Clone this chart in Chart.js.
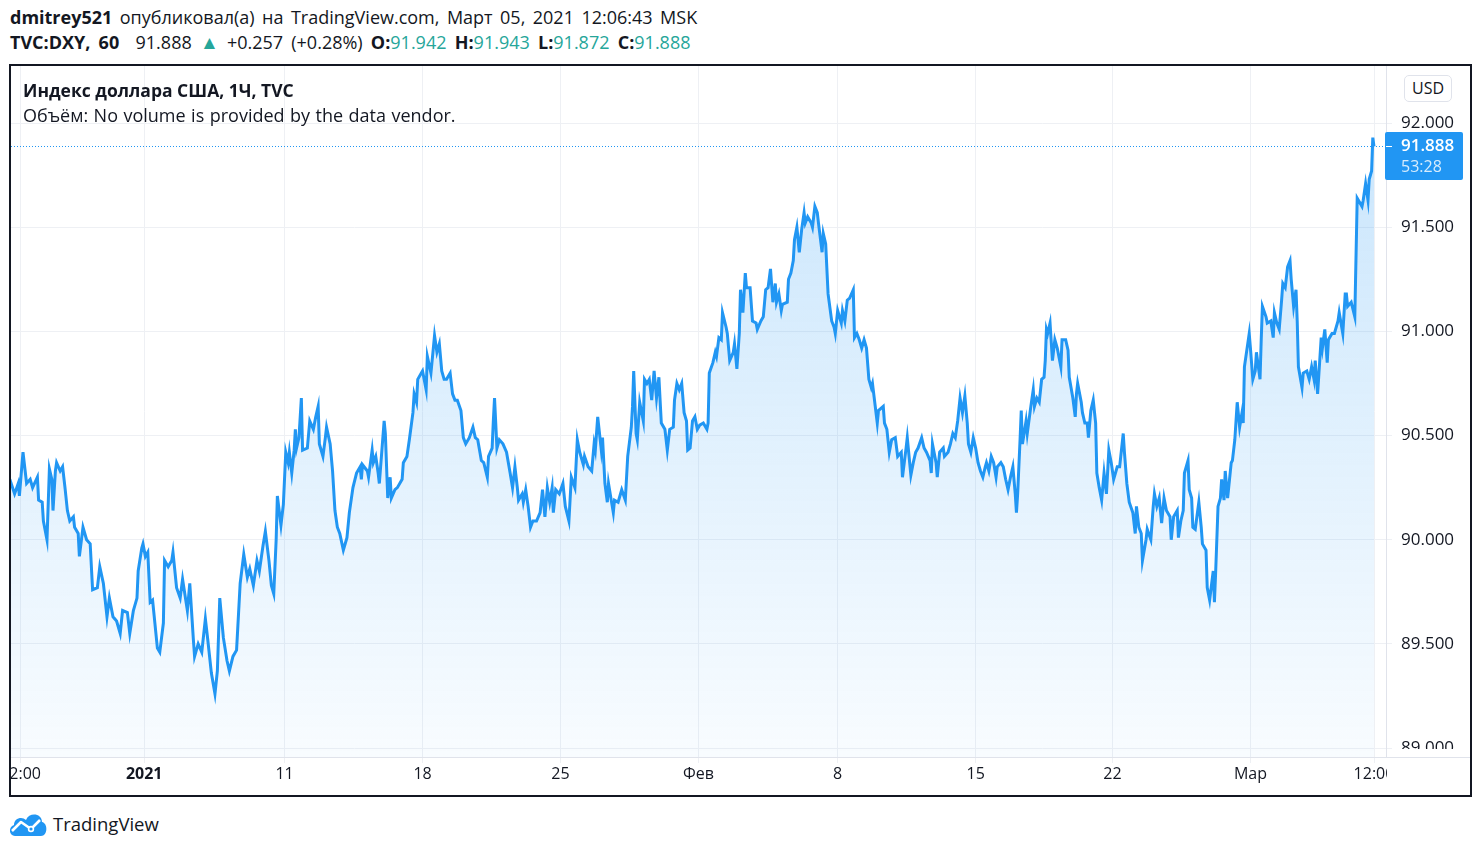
<!DOCTYPE html>
<html>
<head>
<meta charset="utf-8">
<title>DXY 1H</title>
<script src="https://cdn.jsdelivr.net/npm/chart.js@4.4.1/dist/chart.umd.min.js"></script>
<style>
  body { margin: 0; background: #fff; color: #131722; font-family: "Open Sans", "Noto Sans", sans-serif; }
  #hdr { position: absolute; left: 10px; top: 5px; font-size: 18px; line-height: 25px; white-space: nowrap; }
  #hdr .l1 { word-spacing: 2.8px; }
  #hdr .l2 { word-spacing: 3.5px; }
  #hdr b { font-weight: 700; }
  .up { color: #26a69a; }
  .tri { font-size: 19px; }
  #box { position: absolute; left: 9px; top: 64px; width: 1459px; height: 729px; border: 2px solid #131722; overflow: hidden; }
  #box canvas { position: absolute; left: 0; top: 0; }
  #legend { position: absolute; left: 12px; top: 12px; font-size: 18px; line-height: 25px; white-space: nowrap; }
  #legend b { font-weight: 700; font-size: 17.5px; }
  #legend .vol { word-spacing: 0.8px; }
  #usd { position: absolute; left: 1393px; top: 9px; width: 46px; height: 25px; border: 1px solid #e0e3eb; border-radius: 5px;
         font-size: 16px; line-height: 25px; text-align: center; background: #fff; }
  #foot { position: absolute; left: 8px; top: 808px; height: 30px; display: flex; align-items: center; font-size: 18.5px; }
  #foot svg { margin-right: 5px; }
</style>
</head>
<body>
<div id="hdr">
  <div class="l1"><b>dmitrey521</b> опубликовал(а) на TradingView.com, Март 05, 2021 12:06:43 MSK</div>
  <div class="l2"><b>TVC:DXY, 60</b>&nbsp; 91.888 <span class="up tri">▲</span> +0.257 (+0.28%) <b>O:</b><span class="up">91.942</span> <b>H:</b><span class="up">91.943</span> <b>L:</b><span class="up">91.872</span> <b>C:</b><span class="up">91.888</span></div>
</div>

<div id="box">
  <canvas id="dxy" width="1459" height="729"></canvas>
  <div id="legend">
    <div><b>Индекс доллара США, 1Ч, TVC</b></div>
    <div class="vol">Объём: No volume is provided by the data vendor.</div>
  </div>
  <div id="usd">USD</div>
</div>

<div id="foot">
  <svg width="40" height="26" viewBox="0 0 40 26">
    <path d="M7 26 C1 26 0 17 6 15 C6 8 14 6 18 10 C21 2 34 3 34 12 C40 13 40 26 33 26 Z" fill="#2196f3"/>
    <polyline points="4,21 13,12 23,19 32,10" fill="none" stroke="#fff" stroke-width="2.6" stroke-linejoin="round"/>
    <circle cx="23" cy="19" r="2.4" fill="#2196f3" stroke="#fff" stroke-width="1.6"/>
  </svg>
  <span>TradingView</span>
</div>

<script>
// hourly bars counted from the first bar on screen, and the close of each
const hours = [
  0, 4, 7, 8, 11, 14, 17, 19, 23, 24, 27, 28, 31, 33, 35, 36, 38, 39, 42, 44,
  46, 48, 50, 53, 54, 57, 58, 61, 64, 67, 69, 73, 75, 78, 81, 83, 86, 89, 92, 94,
  98, 100, 103, 106, 107, 110, 111, 113, 115, 117, 119, 123, 125, 128, 129, 132, 135, 136, 139, 142,
  144, 148, 150, 153, 154, 157, 160, 163, 165, 168, 171, 173, 175, 178, 181, 183, 186, 189, 192,
  195, 198, 200, 203, 206, 208, 211, 213, 216, 218, 220, 222, 223, 226, 228, 230, 232, 233, 235, 237,
  238, 239, 241, 243, 244, 248, 250, 253, 255, 257, 258, 261, 263, 264, 267, 269, 271, 273, 275, 278,
  281, 283, 286, 289, 292, 293, 294, 298, 299, 302, 303, 305, 307, 308, 310, 312, 313, 315, 317, 318,
  321, 323, 327, 328, 331, 333, 336, 337, 339, 340, 343, 344, 347, 348, 351, 353, 354, 356, 358, 360,
  362, 364, 367, 369, 371, 373, 376, 378, 380, 383,
  386, 388, 390, 393, 395, 398, 399, 402, 403, 404, 406, 408, 411, 414, 417, 419, 421, 423, 424, 427,
  428, 430, 432, 434, 436, 439, 442, 444, 446, 448, 450, 452, 453, 455, 458, 461, 463, 466, 468, 471,
  473, 475, 478, 479, 482, 485, 487, 488, 490, 493, 494, 496, 498, 499, 503, 504, 507, 510, 513, 515,
  518, 519, 520, 522, 523, 525, 528, 529, 531, 533, 535, 537, 539, 541, 543, 546, 548, 550, 553, 554,
  556, 558, 560, 562, 564, 565, 567, 569, 571, 573, 575,
  578, 581, 582, 583, 586, 588, 589, 591, 593, 594, 597, 598, 600, 603, 604, 606, 608, 609, 611, 613,
  614, 617, 619, 622, 623, 626, 628, 630, 632, 634, 636, 638, 639, 641, 643, 644, 648, 649, 651, 653,
  654, 656, 658, 660, 662, 663, 665, 668, 669, 671, 673, 674, 677, 678, 680, 682, 685, 687, 688, 690,
  693, 694, 696, 698, 700, 703, 704, 706, 708, 710, 712, 714, 716, 718, 719, 723, 724, 728, 729, 731,
  733, 735, 738, 740, 743, 744, 747, 748, 751, 753, 755, 757, 760, 762, 764, 767,
  768, 769, 772, 773, 775, 778, 779, 782, 784, 786, 788, 790, 792, 794, 796, 798, 799, 801, 803, 805,
  807, 809, 811, 813, 814, 816, 818, 820, 822, 823, 826, 828, 830, 832, 834, 836, 838, 839, 840, 842,
  843, 844, 847, 848, 851, 853, 854, 856, 858, 860, 862, 863, 864, 865, 867, 869, 871, 873, 876, 877,
  880, 882, 883, 886, 888, 889, 890, 893, 894, 896, 898, 899, 901, 903, 905, 906, 908, 910, 912, 914,
  916, 918, 920, 923, 925, 928, 929, 931, 933, 936, 938, 939, 941, 943, 944, 947, 948, 951, 953, 954,
  956, 958,
  960, 962, 964, 967, 968, 970, 973, 974, 976, 978, 979, 982, 983, 985, 986, 988, 991, 993, 994, 997,
  998, 1000, 1003, 1004, 1005, 1007, 1009, 1010, 1012, 1013, 1015, 1018, 1019, 1021, 1023, 1025, 1027, 1028, 1029, 1031,
  1033, 1034, 1036, 1038, 1039, 1042, 1043, 1044, 1047, 1048, 1051, 1053, 1054, 1056, 1058, 1060, 1061, 1063, 1065, 1067,
  1068, 1070, 1072, 1073, 1074, 1077, 1078, 1081, 1083, 1085, 1087, 1088, 1090, 1093, 1094, 1096, 1098, 1099, 1102, 1104,
  1107, 1108, 1111, 1113, 1114, 1115, 1118, 1121, 1123, 1124, 1127, 1128, 1130, 1132, 1133, 1135, 1136, 1137
];
const closes = [
  90.29, 90.22, 90.27, 90.21, 90.42, 90.27, 90.29, 90.25, 90.30, 90.19, 90.18, 90.09, 90.00, 90.34, 90.29, 90.14, 90.33, 90.37, 90.33, 90.35,
  90.25, 90.14, 90.09, 90.11, 90.06, 90.03, 89.92, 90.06, 90.00, 89.98, 89.76, 89.77, 89.87, 89.79, 89.63, 89.72, 89.63, 89.61, 89.55, 89.66,
  89.65, 89.55, 89.66, 89.72, 89.85, 89.96, 89.98, 89.92, 89.94, 89.70, 89.71, 89.48, 89.46, 89.60, 89.90, 89.87, 89.90, 89.94, 89.77, 89.72,
  89.81, 89.66, 89.79, 89.52, 89.44, 89.50, 89.46, 89.62, 89.52, 89.36, 89.26, 89.37, 89.72, 89.53, 89.42, 89.37, 89.44, 89.47, 89.79,
  89.93, 89.82, 89.86, 89.78, 89.90, 89.85, 89.97, 90.04, 89.90, 89.78, 89.74, 90.00, 90.21, 90.07, 90.17, 90.42, 90.37, 90.42, 90.32, 90.43,
  90.53, 90.44, 90.49, 90.68, 90.43, 90.44, 90.57, 90.53, 90.59, 90.64, 90.46, 90.40, 90.49, 90.54, 90.46, 90.33, 90.14, 90.06, 90.03, 89.95,
  90.01, 90.13, 90.25, 90.32, 90.35, 90.29, 90.36, 90.33, 90.30, 90.43, 90.37, 90.40, 90.32, 90.27, 90.42, 90.57, 90.51, 90.20, 90.30, 90.20,
  90.24, 90.25, 90.29, 90.37, 90.40, 90.48, 90.61, 90.70, 90.66, 90.77, 90.80, 90.81, 90.72, 90.88, 90.80, 90.92, 90.98, 90.90, 90.94, 90.81,
  90.77, 90.77, 90.80, 90.70, 90.67, 90.67, 90.62, 90.49, 90.46, 90.49,
  90.54, 90.49, 90.48, 90.38, 90.37, 90.30, 90.40, 90.44, 90.57, 90.68, 90.44, 90.48, 90.46, 90.42, 90.32, 90.25, 90.35, 90.25, 90.19, 90.22,
  90.18, 90.24, 90.16, 90.06, 90.09, 90.09, 90.13, 90.24, 90.11, 90.25, 90.18, 90.25, 90.13, 90.24, 90.22, 90.27, 90.16, 90.09, 90.30, 90.25,
  90.48, 90.42, 90.36, 90.40, 90.35, 90.33, 90.46, 90.43, 90.59, 90.43, 90.49, 90.27, 90.18, 90.27, 90.13, 90.19, 90.18, 90.24, 90.19, 90.40,
  90.54, 90.64, 90.81, 90.51, 90.48, 90.66, 90.57, 90.77, 90.75, 90.77, 90.67, 90.81, 90.68, 90.78, 90.56, 90.53, 90.43, 90.53, 90.54, 90.67,
  90.75, 90.72, 90.75, 90.61, 90.57, 90.43, 90.44, 90.57, 90.59, 90.53, 90.55,
  90.56, 90.53, 90.56, 90.80, 90.85, 90.90, 90.88, 90.97, 90.96, 91.09, 91.02, 90.99, 90.86, 90.90, 90.94, 90.82, 90.99, 91.20, 91.09, 91.28,
  91.21, 91.21, 91.05, 91.04, 91.01, 91.05, 91.07, 91.20, 91.21, 91.30, 91.14, 91.23, 91.14, 91.18, 91.10, 91.13, 91.14, 91.25, 91.28, 91.34,
  91.44, 91.50, 91.38, 91.49, 91.57, 91.52, 91.55, 91.52, 91.50, 91.60, 91.57, 91.52, 91.38, 91.47, 91.42, 91.18, 91.05, 91.02, 90.99, 91.10,
  91.04, 91.10, 91.05, 91.15, 91.16, 91.20, 90.97, 90.99, 90.96, 90.92, 90.96, 90.92, 90.77, 90.73, 90.75, 90.56, 90.62, 90.64, 90.56, 90.53,
  90.42, 90.48, 90.49, 90.40, 90.42, 90.30, 90.44, 90.49, 90.31, 90.37, 90.42, 90.44, 90.49, 90.44, 90.42, 90.38,
  90.32, 90.46, 90.37, 90.30, 90.42, 90.44, 90.40, 90.42, 90.46, 90.51, 90.49, 90.57, 90.68, 90.61, 90.69, 90.56, 90.46, 90.42, 90.49, 90.44,
  90.37, 90.33, 90.30, 90.35, 90.37, 90.33, 90.40, 90.37, 90.30, 90.35, 90.37, 90.35, 90.29, 90.24, 90.30, 90.35, 90.22, 90.13, 90.22, 90.48,
  90.62, 90.46, 90.57, 90.51, 90.64, 90.72, 90.64, 90.68, 90.66, 90.77, 90.78, 90.86, 91.01, 90.99, 91.04, 90.86, 90.96, 90.92, 90.83, 90.96,
  90.96, 90.91, 90.78, 90.68, 90.59, 90.70, 90.75, 90.66, 90.61, 90.56, 90.56, 90.49, 90.62, 90.67, 90.56, 90.32, 90.25, 90.19, 90.32, 90.22,
  90.43, 90.37, 90.29, 90.35, 90.35, 90.51, 90.42, 90.27, 90.18, 90.13, 90.03, 90.16, 90.06, 90.03, 89.90, 90.00, 90.05, 90.00, 90.16, 90.22,
  90.16, 90.20,
  90.08, 90.20, 90.14, 90.11, 90.00, 90.11, 90.14, 90.01, 90.09, 90.14, 90.32, 90.38, 90.24, 90.20, 90.06, 90.05, 90.18, 90.06, 89.98, 89.95,
  89.77, 89.71, 89.85, 89.70, 89.84, 90.16, 90.20, 90.29, 90.19, 90.33, 90.20, 90.37, 90.38, 90.48, 90.66, 90.54, 90.61, 90.56, 90.83, 90.91,
  90.99, 90.92, 90.77, 90.81, 90.90, 90.77, 90.96, 91.12, 91.07, 91.04, 91.05, 90.97, 91.09, 91.04, 91.01, 91.15, 91.23, 91.21, 91.31, 91.34,
  91.25, 91.12, 91.20, 91.05, 90.83, 90.73, 90.80, 90.81, 90.77, 90.83, 90.77, 90.86, 90.70, 90.97, 90.92, 91.01, 90.85, 90.96, 90.99, 90.99,
  91.05, 91.09, 90.99, 91.18, 91.18, 91.12, 91.14, 91.07, 91.64, 91.63, 91.60, 91.63, 91.71, 91.63, 91.73, 91.77, 91.93, 91.888
];

// time axis labels and where they sit (in bars)
const tickHours = [9, 112, 229, 344, 459, 574, 690, 805, 919, 1034, 1137];
const tickLabels = ['12:00', '2021', '11', '18', '25', 'Фев', '8', '15', '22', 'Мар', '12:00'];
const priceTicks = [89, 89.5, 90, 90.5, 91, 91.5, 92];

const lastPrice = 91.888;
const countdown = '53:28';

if (hours.length !== closes.length) console.error('length mismatch', hours.length, closes.length);

const FONT = '"Open Sans", "Noto Sans", sans-serif';
const BLUE = '#2196f3';
const GRID = '#eef0f4';
const EDGE = '#e0e3eb';

// no room kept for labels that spill past the plot edges
function noPadding(s) {
  s.paddingLeft = 0;
  s.paddingRight = 0;
  s.paddingTop = 0;
  s.paddingBottom = 0;
}

// covers the bit of the time scale under the price scale, draws the last price marker
const lastPriceMarker = {
  id: 'lastPriceMarker',
  afterDraw(chart) {
    const { ctx, chartArea: a, width, height } = chart;
    const y = chart.scales.y;
    const py = Math.round(y.getPixelForValue(lastPrice)) + 0.5;
    // the lowest price label is cut off where the price pane ends
    const cut = Math.round(y.getPixelForValue(priceTicks[0])) + 1;
    ctx.save();
    ctx.fillStyle = '#fff';
    ctx.fillRect(a.right + 1, cut, width - a.right, height - cut);
    ctx.strokeStyle = EDGE;
    ctx.lineWidth = 1;
    ctx.beginPath();
    ctx.moveTo(a.right, a.bottom + 0.5);
    ctx.lineTo(width, a.bottom + 0.5);
    ctx.stroke();

    ctx.strokeStyle = BLUE;
    ctx.setLineDash([1, 2]);
    ctx.beginPath();
    ctx.moveTo(a.left, py);
    ctx.lineTo(a.right, py);
    ctx.stroke();
    ctx.setLineDash([]);

    ctx.fillStyle = BLUE;
    ctx.beginPath();
    ctx.roundRect(a.right - 1, py - 14.5, 78, 48, 2);
    ctx.fill();
    ctx.strokeStyle = '#fff';
    ctx.beginPath();
    ctx.moveTo(a.right, py);
    ctx.lineTo(a.right + 6, py);
    ctx.stroke();

    ctx.textAlign = 'left';
    ctx.textBaseline = 'middle';
    ctx.fillStyle = '#fff';
    ctx.font = '600 17px ' + FONT;
    ctx.fillText(lastPrice.toFixed(3), a.right + 15, py);
    ctx.fillStyle = 'rgba(255,255,255,0.82)';
    ctx.font = '16px ' + FONT;
    ctx.fillText(countdown, a.right + 15, py + 21);
    ctx.restore();
  }
};

new Chart(document.getElementById('dxy'), {
  type: 'line',
  data: {
    datasets: [{
      data: hours.map((h, i) => ({ x: h, y: closes[i] })),
      borderColor: BLUE,
      borderWidth: 3,
      pointRadius: 0,
      tension: 0,
      fill: 'start',
      backgroundColor: (c) => {
        const a = c.chart.chartArea;
        if (!a) return 'rgba(33,150,243,0.12)';
        const g = c.chart.ctx.createLinearGradient(0, a.top, 0, a.bottom);
        g.addColorStop(0, 'rgba(33,150,243,0.26)');
        g.addColorStop(1, 'rgba(33,150,243,0.03)');
        return g;
      }
    }]
  },
  options: {
    responsive: false,
    animation: false,
    layout: { padding: 0, autoPadding: false },
    plugins: { legend: { display: false }, tooltip: { enabled: false } },
    scales: {
      x: {
        type: 'linear',
        min: 1,
        max: 1147,
        afterBuildTicks: (s) => { s.ticks = tickHours.map(v => ({ value: v })); },
        afterFit: (s) => { s.height = 38; noPadding(s); },
        grid: { color: GRID, tickLength: 6 },
        border: { color: EDGE },
        ticks: {
          autoSkip: false,
          maxRotation: 0,
          padding: 2,
          color: '#131722',
          font: (c) => ({ family: FONT, size: 16, weight: c.tick && c.tick.label === '2021' ? 'bold' : 'normal' }),
          callback: (v, i) => tickLabels[i]
        }
      },
      y: {
        position: 'right',
        min: 88.957,
        max: 92.274,
        afterBuildTicks: (s) => { s.ticks = priceTicks.map(v => ({ value: v })); },
        afterFit: (s) => { s.width = 84; noPadding(s); },
        grid: { color: GRID, tickLength: 6 },
        border: { color: EDGE },
        ticks: {
          z: 1,
          padding: 9,
          color: '#131722',
          font: { family: FONT, size: 17 },
          callback: (v) => v.toFixed(3)
        }
      }
    }
  },
  plugins: [lastPriceMarker]
});
</script>
</body>
</html>
